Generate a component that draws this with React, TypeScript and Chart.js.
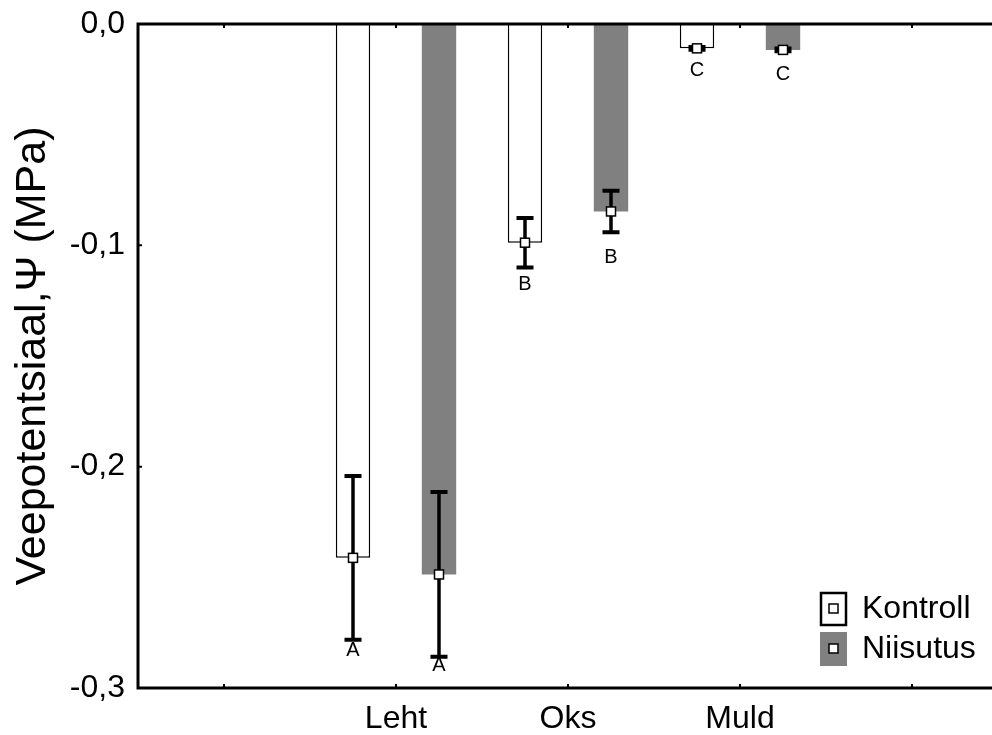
import React, { useEffect, useRef } from 'react';
import { Chart, registerables } from 'chart.js';

Chart.register(...registerables);

const categories = ['', 'Leht', 'Oks', 'Muld', ''];
const seriesNames = ['Kontroll', 'Niisutus'];
const kontrollMean = [null, -0.2412, -0.0988, -0.011, null];
const niisutusMean = [null, -0.2487, -0.0847, -0.0117, null];
const kontrollErr = [null, 0.037, 0.0112, 0.0006, null];
const niisutusErr = [null, 0.0372, 0.0094, 0.0006, null];
const kontrollLetters = [null, 'A', 'B', 'C', null];
const niisutusLetters = [null, 'A', 'B', 'C', null];
const kontrollLetterAt = [null, -0.2829, -0.1179, -0.0212, null];
const niisutusLetterAt = [null, -0.2897, -0.1057, -0.0226, null];
const yMin = -0.3;
const yMax = 0;
const yStep = 0.1;
const yTitle = 'Veepotentsiaal,\u03A8 (MPa)';

const FONT = "'Liberation Sans', Arial, Helvetica, sans-serif";
const colors = { kontroll: '#ffffff', niisutus: '#808080', ink: '#000000' };

const means = [kontrollMean, niisutusMean];
const errs = [kontrollErr, niisutusErr];
const letters = [kontrollLetters, niisutusLetters];
const letterAt = [kontrollLetterAt, niisutusLetterAt];

const decorPlugin = {
  id: 'decor',
  afterDatasetsDraw(chart: any) {
    const { ctx, scales } = chart;
    const y = scales.y;
    ctx.save();
    for (let di = 0; di < 2; di++) {
      const meta = chart.getDatasetMeta(di);
      meta.data.forEach((bar: any, j: number) => {
        const m = means[di][j];
        const e = errs[di][j];
        if (m == null || e == null) return;
        const cx = bar.x;
        const yHi = y.getPixelForValue(m + e);
        const yLo = y.getPixelForValue(m - e);
        const ym = y.getPixelForValue(m);
        ctx.strokeStyle = colors.ink;
        ctx.lineWidth = 3.5;
        ctx.lineCap = 'butt';
        ctx.beginPath();
        ctx.moveTo(cx, yHi);
        ctx.lineTo(cx, yLo);
        ctx.stroke();
        ctx.lineWidth = 4;
        ctx.beginPath();
        ctx.moveTo(cx - 8.5, yHi);
        ctx.lineTo(cx + 8.5, yHi);
        ctx.moveTo(cx - 8.5, yLo);
        ctx.lineTo(cx + 8.5, yLo);
        ctx.stroke();
        ctx.fillStyle = '#ffffff';
        ctx.fillRect(cx - 4.5, ym - 4.5, 9, 9);
        ctx.lineWidth = 1.5;
        ctx.strokeRect(cx - 4.5, ym - 4.5, 9, 9);
        const L = letters[di][j];
        const la = letterAt[di][j];
        if (L && la != null) {
          ctx.fillStyle = colors.ink;
          ctx.font = `20px ${FONT}`;
          ctx.textAlign = 'center';
          ctx.textBaseline = 'middle';
          ctx.fillText(L, cx, y.getPixelForValue(la));
        }
      });
    }
    ctx.restore();
  },
  afterDraw(chart: any) {
    const { ctx, chartArea: a, scales } = chart;
    const x = scales.x;
    const y = scales.y;
    ctx.save();
    ctx.strokeStyle = colors.ink;
    ctx.lineWidth = 3;
    ctx.beginPath();
    ctx.moveTo(a.left, a.top);
    ctx.lineTo(a.right + 10, a.top);
    ctx.moveTo(a.left, a.bottom);
    ctx.lineTo(a.right + 10, a.bottom);
    ctx.moveTo(a.left, a.top - 1.5);
    ctx.lineTo(a.left, a.bottom + 1.5);
    ctx.stroke();
    ctx.lineWidth = 2;
    ctx.beginPath();
    for (let i = 0; i < categories.length; i++) {
      const px = x.getPixelForValue(i);
      ctx.moveTo(px, a.top);
      ctx.lineTo(px, a.top + 4);
      ctx.moveTo(px, a.bottom);
      ctx.lineTo(px, a.bottom - 4);
    }
    y.ticks.forEach((t: any) => {
      const py = y.getPixelForValue(t.value);
      ctx.moveTo(a.left, py);
      ctx.lineTo(a.left + 4, py);
    });
    ctx.stroke();
    const lx = a.right - 177;
    const rows = [a.bottom - 95, a.bottom - 55];
    chart.data.datasets.forEach((ds: any, i: number) => {
      const top = rows[i];
      if (i === 0) {
        ctx.fillStyle = '#ffffff';
        ctx.fillRect(lx, top, 25, 32);
        ctx.lineWidth = 2.5;
        ctx.strokeStyle = colors.ink;
        ctx.strokeRect(lx, top, 25, 32);
      } else {
        ctx.fillStyle = ds.backgroundColor;
        ctx.fillRect(lx - 1, top - 1, 27, 34);
      }
      ctx.fillStyle = '#ffffff';
      ctx.fillRect(lx + 8, top + 11, 9, 9);
      ctx.lineWidth = 1.5;
      ctx.strokeStyle = colors.ink;
      ctx.strokeRect(lx + 8, top + 11, 9, 9);
      ctx.fillStyle = colors.ink;
      ctx.font = `32px ${FONT}`;
      ctx.textAlign = 'left';
      ctx.textBaseline = 'middle';
      ctx.fillText(ds.label, lx + 41, top + 16);
    });
    ctx.restore();
  },
};

export default function App() {
  const ref = useRef<HTMLCanvasElement | null>(null);
  useEffect(() => {
    if (!ref.current) return;
    const chart = new Chart(ref.current, {
      type: 'bar',
      data: {
        labels: categories,
        datasets: [
          {
            label: seriesNames[0],
            data: kontrollMean as any,
            backgroundColor: colors.kontroll,
            borderColor: colors.ink,
            borderWidth: 1.5,
            barPercentage: 0.4,
            categoryPercentage: 1.0,
          },
          {
            label: seriesNames[1],
            data: niisutusMean as any,
            backgroundColor: colors.niisutus,
            borderWidth: 0,
            barPercentage: 0.4,
            categoryPercentage: 1.0,
          },
        ],
      },
      options: {
        animation: false,
        responsive: false,
        layout: { padding: { top: 24, right: 2, left: 0, bottom: 0 } },
        plugins: { legend: { display: false }, tooltip: { enabled: false } },
        scales: {
          x: {
            grid: { display: false, drawTicks: false },
            border: { display: false },
            ticks: {
              autoSkip: false,
              maxRotation: 0,
              padding: 12,
              color: colors.ink,
              font: { family: FONT, size: 32 },
            },
            afterFit: (s: any) => {
              s.height = 47;
              s.paddingLeft = 0;
              s.paddingRight = 0;
            },
          },
          y: {
            min: yMin,
            max: yMax,
            grid: { display: false, drawTicks: false },
            border: { display: false },
            ticks: {
              stepSize: yStep,
              padding: 13,
              color: colors.ink,
              font: { family: FONT, size: 32 },
              callback: (v: any) => Number(v).toFixed(1).replace('.', ','),
            },
            title: {
              display: true,
              text: yTitle,
              color: colors.ink,
              font: { family: FONT, size: 43 },
              padding: { top: 7, bottom: 0 },
            },
            afterFit: (s: any) => {
              s.width = 138;
              s.paddingTop = 0;
              s.paddingBottom = 0;
            },
          },
        },
      },
      plugins: [decorPlugin],
    });
    return () => chart.destroy();
  }, []);
  return (
    <div style={{ position: 'fixed', left: 0, top: 0, width: 992, height: 735, overflow: 'hidden', background: '#fff' }}>
      <canvas ref={ref} width={1000} height={735} style={{ display: 'block' }} />
    </div>
  );
}
